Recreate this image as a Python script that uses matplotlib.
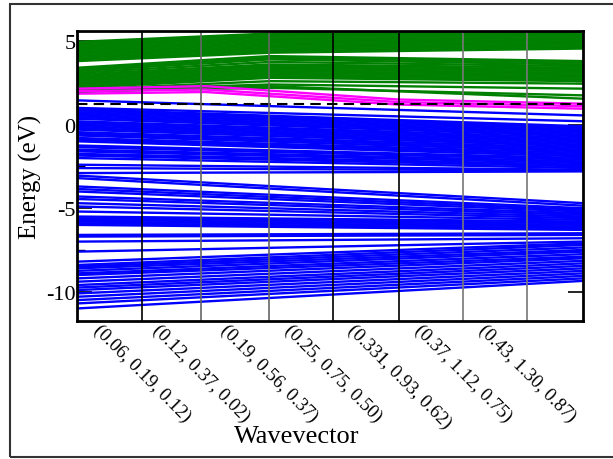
import matplotlib
matplotlib.use("Agg")
import matplotlib.pyplot as plt
from matplotlib.patches import Rectangle

plt.rcParams['font.family'] = ['Liberation Serif', 'DejaVu Serif']
plt.rcParams['axes.unicode_minus'] = False

# ---- data ----
kpoint_labels = ["(0.06, 0.19, 0.12)", "(0.12, 0.37, 0.02)", "(0.19, 0.56, 0.37)",
                 "(0.25, 0.75, 0.50)", "(0.331, 0.93, 0.62)", "(0.37, 1.12, 0.75)",
                 "(0.43, 1.30, 0.87)"]
kpoint_pos = [1.01, 1.93, 2.99, 3.98, 5.01, 6.0, 7.0]
k_end = 7.87
fermi = 1.25

# valence bands: energy at path start / path end
vb_upper_left = [1.45, 1.0, 0.92, 0.85, 0.75, 0.65, 0.55, 0.45, 0.35, 0.2, 0.1, 0.0, -0.1,
                 -0.2, -0.3, -0.45, -0.55, -0.65, -0.8, -0.9, -1.0, -1.25, -1.35, -1.5,
                 -1.6, -1.75, -1.85, -2.0, -2.4, -2.6, -2.9]
vb_upper_right = [0.55, 0.2, -0.1, -0.2, -0.3, -0.4, -0.5, -0.6, -0.7, -0.8, -0.9, -1.0,
                  -1.1, -1.2, -1.3, -1.4, -1.5, -1.6, -1.7, -1.8, -1.9, -2.0, -2.1, -2.2,
                  -2.3, -2.4, -2.5, -2.6, -2.7, -2.75, -2.8]
vb_deep_left = [-3.05, -3.2, -3.7, -3.85, -4.0, -4.3, -4.45, -4.7, -4.9, -5.2, -5.5, -5.6,
                -5.7, -5.8, -5.9, -6.0, -6.6, -6.7, -7.0, -7.6,
                -8.2, -8.4, -8.5, -8.6, -8.75, -8.9, -9.0, -9.2, -9.4, -9.6, -9.75, -9.9,
                -10.1, -10.3, -10.5, -10.7, -11.0]
vb_deep_right = [-4.7, -4.85, -5.0, -5.1, -5.2, -5.3, -5.4, -5.5, -5.6, -5.7, -5.8, -5.9,
                 -6.0, -6.1, -6.2, -6.3, -6.5, -6.6, -6.8, -7.0,
                 -7.1, -7.2, -7.35, -7.5, -7.6, -7.75, -7.9, -8.0, -8.15, -8.3, -8.45,
                 -8.6, -8.75, -8.9, -9.05, -9.2, -9.35]

# magenta bands at k = 0, 2, 5, end
mag_k = [0.0, 2.0, 5.0, 7.87]
mag_bands = [[2.15, 2.3, 1.5, 1.25],
             [2.0, 2.1, 1.35, 1.1],
             [1.85, 1.95, 1.2, 0.95]]

# conduction bands at k = 0, 3, end
cb_k = [0.0, 3.0, 7.87]
cb_start = [4.95, 4.85, 4.75, 4.7, 4.6, 4.5, 4.4, 4.3, 4.2, 4.1, 4.0, 3.9, 3.8,
            3.4, 3.3, 3.2, 3.1, 3.0, 2.9, 2.8, 2.7, 2.6, 2.5, 2.4, 2.3, 2.2, 2.1, 2.05, 2.0, 1.95]
cb_mid = [5.45, 5.4, 5.3, 5.2, 5.1, 5.0, 4.9, 4.8, 4.7, 4.6, 4.5, 4.4, 4.3,
          4.1, 4.0, 3.9, 3.75, 3.6, 3.5, 3.4, 3.3, 3.2, 3.1, 3.0, 2.9, 2.8, 2.6, 2.4, 2.2, 2.3]
cb_end = [5.6, 5.55, 5.5, 5.4, 5.3, 5.2, 5.1, 5.0, 4.9, 4.8, 4.7, 4.6, 4.55,
          3.8, 3.7, 3.6, 3.5, 3.4, 3.3, 3.2, 3.1, 3.0, 2.9, 2.8, 2.7, 2.6, 2.45, 2.15, 1.75, 1.55]

# ---- figure ----
W, H = 613, 460
fig = plt.figure(figsize=(W / 100, H / 100), dpi=100)
ax = fig.add_axes([77 / W, 1 - 322 / H, (583 - 77) / W, (322 - 32) / H])

lw = 1.7
for a, b in zip(vb_upper_left, vb_upper_right):
    ax.plot([0, k_end], [a, b], color='#0000ff', lw=lw, solid_capstyle='butt')
for a, b in zip(vb_deep_left, vb_deep_right):
    ax.plot([0, k_end], [a, b], color='#0000ff', lw=lw, solid_capstyle='butt')
for a, m, b in zip(cb_start, cb_mid, cb_end):
    ax.plot(cb_k, [a, m, b], color='#008000', lw=lw, solid_capstyle='butt')
for band in mag_bands:
    ax.plot(mag_k, band, color='#ff00ff', lw=lw, solid_capstyle='butt')

ax.axhline(fermi, color='black', lw=1.5, ls=(0, (5, 3)))

vcols = ['black', '#666666', '#666666', 'black', 'black', '#777777', '#777777']
for x, c in zip(kpoint_pos, vcols):
    ax.axvline(x, color=c, lw=1.2)

ax.set_xlim(0, k_end)
ax.set_ylim(-11.75, 5.6)
ax.set_xticks(kpoint_pos)
ax.set_xticklabels(kpoint_labels, rotation=-45, ha='center', va='top', fontsize=13.5)
ax.tick_params(axis='x', length=0, pad=0)
ax.set_yticks([-10, -5, 0, 5])
ax.set_yticks([-7.5, -2.5, 2.5], minor=True)
ax.tick_params(axis='y', which='major', direction='in', length=11, width=1.2,
               left=True, right=True, labelsize=16, pad=1)
ax.tick_params(axis='y', which='minor', direction='in', length=6, width=1.0,
               left=True, right=True)
for s in ax.spines.values():
    s.set_linewidth(2)
ax.set_ylabel('Energy (eV)', fontsize=18, labelpad=3)
ax.set_xlabel('Wavevector', fontsize=19, labelpad=-4)
ax.xaxis.set_label_coords((297 - 77) / (583 - 77), -0.36)

fig.patches.append(Rectangle((10 / W, 2 / H), 1.0, 1 - 7 / H, transform=fig.transFigure,
                             fill=False, edgecolor='#333333', lw=1.5))

fig.savefig('out.png', dpi=100)
